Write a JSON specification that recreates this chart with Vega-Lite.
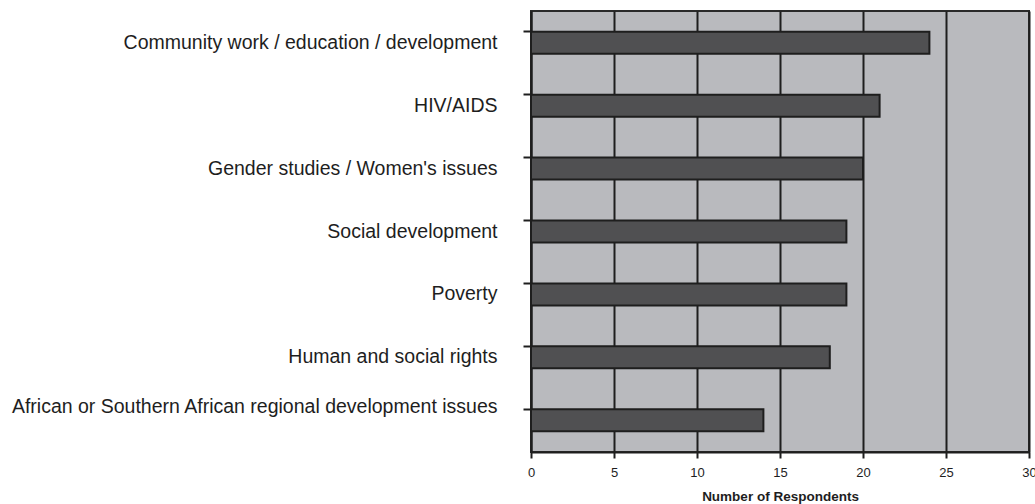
{
  "$schema": "https://vega.github.io/schema/vega-lite/v6.json",
  "autosize": "none",
  "width": 498,
  "height": 441,
  "padding": {"left": 531, "top": 11, "right": 6, "bottom": 52},
  "background": "white",
  "config": {
    "font": "Liberation Sans",
    "view": {"fill": "#b9babe", "stroke": "#2a2a2a", "strokeWidth": 2}
  },
  "data": {
    "values": [
      {"topic": "Community work / education / development", "n": 24},
      {"topic": "HIV/AIDS", "n": 21},
      {"topic": "Gender studies / Women's issues", "n": 20},
      {"topic": "Social development", "n": 19},
      {"topic": "Poverty", "n": 19},
      {"topic": "Human and social rights", "n": 18},
      {"topic": "African or Southern African regional development issues", "n": 14}
    ]
  },
  "mark": {"type": "bar", "fill": "#505052", "stroke": "#1e1e1e", "strokeWidth": 2},
  "encoding": {
    "y": {
      "field": "topic",
      "type": "nominal",
      "sort": null,
      "scale": {"paddingInner": 0.65, "paddingOuter": 0.33},
      "axis": {
        "title": null,
        "bandPosition": 0,
        "domainColor": "#1e1e1e",
        "domainWidth": 2,
        "tickColor": "#1e1e1e",
        "tickWidth": 2,
        "tickSize": 8,
        "labelPadding": 26,
        "labelFontSize": 19.5,
        "labelColor": "#1e1e1e",
        "labelLimit": 600,
        "labelOffset": {"condition": {"test": "datum.value === 'African or Southern African regional development issues'", "value": -13}, "value": 0}
      }
    },
    "x": {
      "field": "n",
      "type": "quantitative",
      "scale": {"domain": [0, 30], "nice": false},
      "axis": {
        "title": "Number of Respondents",
        "titleFontSize": 13.5,
        "titleFontWeight": "bold",
        "titleColor": "#1e1e1e",
        "titlePadding": 10,
        "values": [0, 5, 10, 15, 20, 25, 30],
        "grid": true,
        "gridColor": "#1e1e1e",
        "gridWidth": 2,
        "gridOpacity": 1,
        "domainColor": "#1e1e1e",
        "domainWidth": 2,
        "tickColor": "#1e1e1e",
        "tickWidth": 2,
        "tickSize": 6,
        "labelFontSize": 13,
        "labelColor": "#1e1e1e",
        "labelPadding": 8,
        "labelFlush": false
      }
    }
  }
}
